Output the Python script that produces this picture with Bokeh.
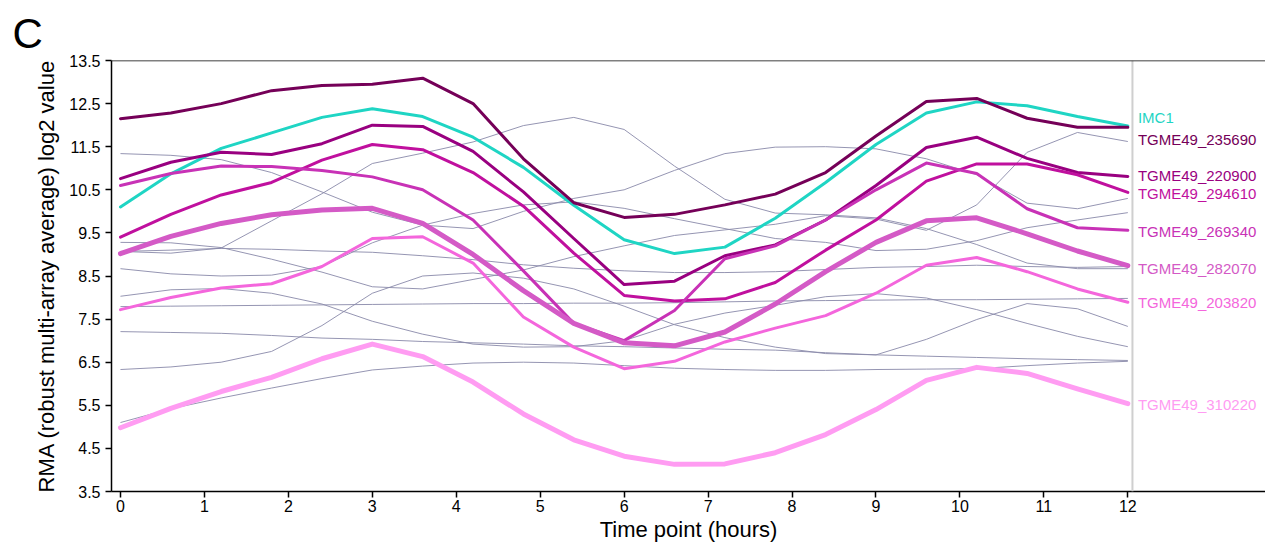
from bokeh.plotting import figure
from bokeh.models import Range1d, FixedTicker, Span
from bokeh.embed import file_html
from bokeh.resources import INLINE
from bokeh.core.properties import value

FONT = "Liberation Sans"

# ---------------- data ----------------
hours = [0.0, 0.6, 1.2, 1.8, 2.4, 3.0, 3.6, 4.2, 4.8, 5.4, 6.0,
         6.6, 7.2, 7.8, 8.4, 9.0, 9.6, 10.2, 10.8, 11.4, 12.0]

x_ticks = [0, 1, 2, 3, 4, 5, 6, 7, 8, 9, 10, 11, 12]
y_ticks = [3.5, 4.5, 5.5, 6.5, 7.5, 8.5, 9.5, 10.5, 11.5, 12.5, 13.5]

# background genes (thin grey lines)
grey_a = [11.34, 11.30, 11.20, 10.90, 10.45, 9.98, 9.68, 9.60, 10.00, 10.30, 10.50,
          10.95, 11.34, 11.49, 11.50, 11.45, 11.22, 10.85, 10.19, 10.06, 10.30]
grey_b = [9.28, 9.27, 9.16, 8.89, 8.59, 8.25, 8.20, 8.42, 8.64, 8.95, 9.20,
          9.44, 9.57, 9.70, 9.90, 9.82, 9.56, 10.15, 11.37, 11.83, 11.62]
grey_c = [9.07, 9.03, 9.15, 9.78, 10.41, 11.11, 11.35, 11.61, 11.99, 12.18, 11.90,
          11.05, 10.28, 9.96, 9.92, 9.85, 9.60, 9.23, 8.80, 8.67, 8.67]
grey_d = [9.07, 9.10, 9.14, 9.12, 9.08, 9.05, 8.97, 8.88, 8.76, 8.68, 8.62,
          8.58, 8.58, 8.60, 8.65, 8.70, 8.72, 8.75, 8.72, 8.70, 8.72]
grey_e = [8.67, 8.55, 8.50, 8.52, 8.72, 9.27, 9.68, 9.95, 10.15, 10.22, 10.07,
          9.83, 9.60, 9.37, 9.28, 9.09, 9.12, 9.32, 9.62, 9.80, 9.97]
grey_f = [8.03, 8.18, 8.21, 8.10, 7.85, 7.45, 7.15, 6.92, 6.85, 6.86, 7.00,
          7.38, 7.64, 7.82, 8.02, 8.09, 7.99, 7.72, 7.40, 7.10, 6.86]
grey_g = [7.79, 7.80, 7.81, 7.82, 7.83, 7.84, 7.85, 7.86, 7.86, 7.87, 7.87,
          7.88, 7.90, 7.92, 7.93, 7.94, 7.95, 7.95, 7.96, 7.97, 7.98]
grey_h = [7.21, 7.19, 7.17, 7.12, 7.06, 7.03, 6.98, 6.95, 6.92, 6.88, 6.86,
          6.83, 6.80, 6.78, 6.72, 6.67, 6.64, 6.61, 6.58, 6.56, 6.54]
grey_i = [6.33, 6.39, 6.50, 6.75, 7.35, 8.10, 8.50, 8.57, 8.45, 8.20, 7.80,
          7.37, 7.07, 6.85, 6.70, 6.67, 7.03, 7.49, 7.86, 7.74, 7.33]
grey_j = [5.10, 5.42, 5.67, 5.90, 6.12, 6.32, 6.41, 6.48, 6.50, 6.48, 6.42,
          6.36, 6.33, 6.31, 6.31, 6.33, 6.34, 6.35, 6.42, 6.48, 6.52]
grey_series = [grey_a, grey_b, grey_c, grey_d, grey_e, grey_f, grey_g, grey_h, grey_i, grey_j]

# highlighted genes
imc1 = [10.10, 10.87, 11.46, 11.82, 12.18, 12.38, 12.20, 11.72, 11.02, 10.14, 9.34,
        9.02, 9.17, 9.84, 10.67, 11.55, 12.28, 12.54, 12.45, 12.20, 11.98]
tgme_235690 = [12.15, 12.28, 12.50, 12.80, 12.92, 12.95, 13.09, 12.50, 11.22, 10.20, 9.86,
               9.93, 10.15, 10.40, 10.90, 11.75, 12.55, 12.62, 12.16, 11.95, 11.95]
tgme_220900 = [10.76, 11.14, 11.37, 11.32, 11.57, 12.00, 11.97, 11.39, 10.45, 9.37, 8.30,
               8.38, 8.97, 9.22, 9.80, 10.60, 11.48, 11.72, 11.23, 10.90, 10.81]
tgme_294610 = [9.40, 9.93, 10.38, 10.67, 11.19, 11.55, 11.43, 10.90, 10.12, 9.03, 8.05,
               7.92, 7.97, 8.35, 9.10, 9.80, 10.70, 11.10, 11.10, 10.85, 10.44]
tgme_269340 = [10.60, 10.88, 11.05, 11.04, 10.95, 10.80, 10.50, 9.80, 8.62, 7.40, 7.00,
               7.70, 8.90, 9.20, 9.80, 10.50, 11.12, 10.88, 10.06, 9.62, 9.56]
tgme_282070 = [9.02, 9.42, 9.72, 9.92, 10.03, 10.07, 9.72, 9.00, 8.16, 7.40, 6.95,
               6.88, 7.20, 7.85, 8.60, 9.28, 9.78, 9.85, 9.48, 9.08, 8.74]
tgme_203820 = [7.72, 8.00, 8.22, 8.32, 8.72, 9.37, 9.41, 8.80, 7.55, 6.85, 6.35,
               6.52, 6.97, 7.29, 7.58, 8.10, 8.75, 8.93, 8.60, 8.20, 7.89]
tgme_310220 = [4.98, 5.43, 5.82, 6.15, 6.58, 6.92, 6.63, 6.04, 5.30, 4.70, 4.32,
               4.13, 4.14, 4.40, 4.82, 5.40, 6.08, 6.38, 6.24, 5.88, 5.54]

gene_names = ["IMC1", "TGME49_235690", "TGME49_220900", "TGME49_294610",
              "TGME49_269340", "TGME49_282070", "TGME49_203820", "TGME49_310220"]
gene_series = [imc1, tgme_235690, tgme_220900, tgme_294610,
               tgme_269340, tgme_282070, tgme_203820, tgme_310220]
gene_colors = ["#1fd5c4", "#750058", "#990080", "#c0109e",
               "#c832b6", "#d45ac6", "#f466dc", "#ff9cf2"]
gene_widths = [3, 3, 3, 3, 3, 5, 3, 5]
label_y = [12.17, 11.66, 10.83, 10.41, 9.53, 8.67, 7.89, 5.51]  # label positions

# ---------------- figure ----------------
p = figure(width=1265, height=544,
           x_range=Range1d(-0.107, 13.64), y_range=Range1d(3.5, 13.5),
           output_backend="svg", toolbar_location=None,
           min_border_left=111, min_border_right=0,
           min_border_top=60, min_border_bottom=53)
p.outline_line_color = None
p.grid.grid_line_color = None
p.background_fill_color = "white"

p.title.text = "C"
p.title.text_font = FONT
p.title.text_font_size = "42px"
p.title.text_font_style = "normal"
p.title.text_color = "black"
p.title.align = "left"
p.title.offset = -99
p.title.standoff = 7

for s in grey_series:
    p.line(hours, s, line_color="#8a8aaa", line_width=1, line_alpha=0.9)

p.add_layout(Span(location=12.055, dimension="height", line_color="#cfcfcf", line_width=2))
p.add_layout(Span(location=13.5, dimension="width", line_color="black", line_width=1.5))

for s, c, w in zip(gene_series, gene_colors, gene_widths):
    p.line(hours, s, line_color=c, line_width=w, line_join="round", line_cap="round")

p.text(x=[12.12] * len(gene_names), y=label_y, text=gene_names, text_color=gene_colors,
       text_font=value(FONT), text_font_size="15px",
       text_baseline="middle", text_align="left")

for ax in (p.xaxis[0], p.yaxis[0]):
    ax.axis_line_color = "black"
    ax.axis_line_width = 1.5
    ax.major_tick_line_color = "black"
    ax.major_tick_line_width = 1.5
    ax.major_tick_out = 6
    ax.major_tick_in = 0
    ax.minor_tick_line_color = None
    ax.major_label_text_font = FONT
    ax.major_label_text_font_size = "16px"
    ax.major_label_text_color = "black"
    ax.axis_label_text_font = FONT
    ax.axis_label_text_font_size = "22px"
    ax.axis_label_text_font_style = "normal"
    ax.axis_label_text_color = "black"

p.xaxis[0].ticker = FixedTicker(ticks=x_ticks)
p.xaxis[0].major_label_standoff = 2
p.xaxis[0].axis_label = "Time point (hours)"
p.xaxis[0].axis_label_standoff = 2
p.yaxis[0].ticker = FixedTicker(ticks=y_ticks)
p.yaxis[0].major_label_standoff = 5
p.yaxis[0].axis_label = "RMA (robust multi-array average) log2 value"
p.yaxis[0].axis_label_standoff = 7

open("out.html", "w").write(file_html(p, INLINE))
